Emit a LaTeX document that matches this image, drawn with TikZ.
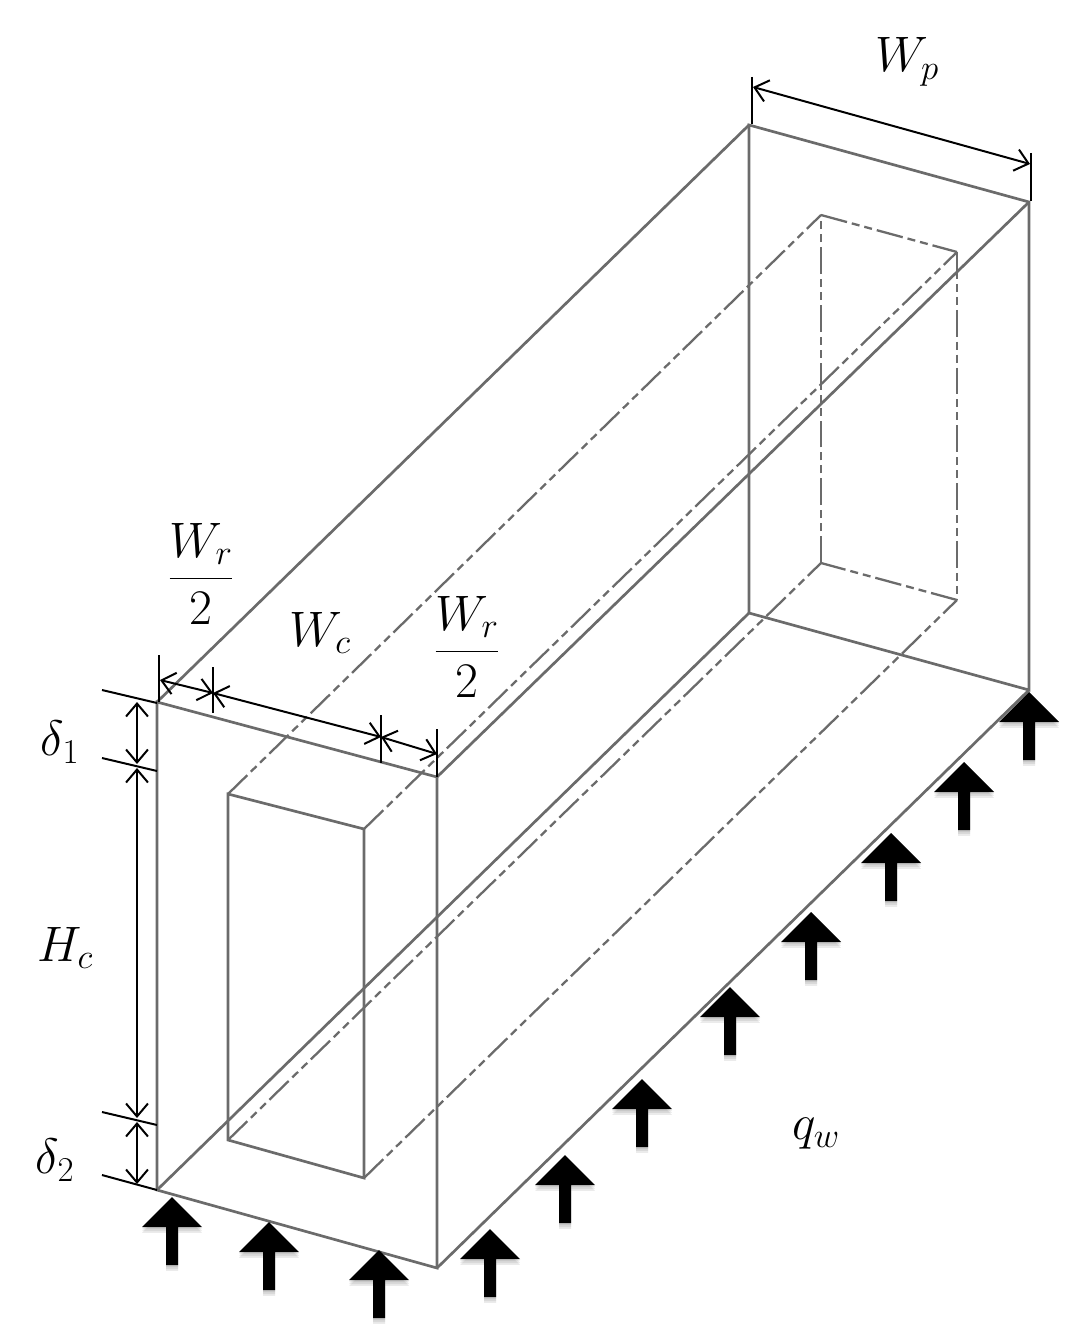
\documentclass[tikz,border=0pt]{standalone}
\usepackage{fix-cm}
\usetikzlibrary{arrows.meta}
\tikzset{
    edgeline/.style={draw=black!58, line width=2.7pt},
    hiddenline/.style={edgeline, line width=2.3pt, dash pattern=on 27pt off 5pt on 8pt off 5pt on 8pt off 5pt},
    dimline/.style={draw=black, line width=2pt},
    dimarrow/.style={dimline, {Straight Barb[length=13pt,width=22pt]}-{Straight Barb[length=13pt,width=22pt]}},
    lab/.style={font=\fontsize{50}{60}\selectfont, inner sep=0pt},
}
\begin{document}
\begin{tikzpicture}[x=1bp, y=-1bp]
\useasboundingbox (0,0) rectangle (1083,1344);
% outer box
\coordinate (A) at (157,702);
\coordinate (B) at (437,777);
\coordinate (C) at (437,1268);
\coordinate (D) at (157,1190);
\coordinate (E) at (749,125);
\coordinate (F) at (1029,202);
\coordinate (G) at (1029,690);
\coordinate (H) at (749,613);
% inner channel
\coordinate (a) at (228,794);
\coordinate (b) at (364,829);
\coordinate (c) at (364,1178);
\coordinate (d) at (228,1140);
\coordinate (e) at (821,215);
\coordinate (f) at (957,252);
\coordinate (g) at (957,600);
\coordinate (h) at (821,563);

\draw[edgeline](A)--(B)--(C)--(D)--cycle;
\draw[edgeline](E)--(F)--(G)--(H)--cycle;
\foreach \p/\q in {A/E,B/F,C/G,D/H}
{
    \draw[edgeline](\p)--(\q);
}
\draw[edgeline](a)--(b)--(c)--(d)--cycle;
\foreach \p/\q in {a/e,b/f,c/g,d/h,e/f,f/g,g/h,h/e}
{
    \draw[hiddenline](\p)--(\q);
}

% heat flux arrows
\foreach \x/\y in {172/1197,269/1222,379/1250,490/1229,565/1155,642/1079,730/987,811/912,891/833,964/762,1029/692}
{
    \begin{scope}[shift={(\x,\y)}]
    \foreach \s in {2,4,6}
    {
        \fill[black, opacity=.08,yshift=-\s pt](0,0)--(30,30)--(6,30)--(6,68)--(-6,68)--(-6,30)--(-30,30)--cycle;
    }
    \fill[black](0,0)--(30,30)--(6,30)--(6,68)--(-6,68)--(-6,30)--(-30,30)--cycle;
    \end{scope}
}

% dimension ticks
\coordinate (t1) at (159,655);
\coordinate (t2) at (159,702);
\coordinate (t3) at (213,667);
\coordinate (t4) at (213,713);
\coordinate (t5) at (381,715);
\coordinate (t6) at (381,763);
\coordinate (t7) at (437,729);
\coordinate (t8) at (437,777);
\coordinate (t9) at (752,77);
\coordinate (t10) at (752,124);
\coordinate (t11) at (1031,153);
\coordinate (t12) at (1031,201);
\coordinate (s1) at (102,690);
\coordinate (s2) at (157,703);
\coordinate (s3) at (102,758);
\coordinate (s4) at (157,771);
\coordinate (s5) at (102,1112);
\coordinate (s6) at (157,1125);
\coordinate (s7) at (102,1175);
\coordinate (s8) at (157,1190);
\foreach \p/\q in {t1/t2,t3/t4,t5/t6,t7/t8,t9/t10,t11/t12,s1/s2,s3/s4,s5/s6,s7/s8}
{
    \draw[dimline](\p)--(\q);
}
% dimension arrows
\coordinate (w1) at (160,680);
\coordinate (w2) at (213,693);
\coordinate (w3) at (381,737);
\coordinate (w4) at (437,754);
\coordinate (w5) at (753,87);
\coordinate (w6) at (1030,164);
\coordinate (v1) at (137,702);
\coordinate (v2) at (137,764);
\coordinate (v3) at (137,768);
\coordinate (v4) at (137,1118);
\coordinate (v5) at (137,1122);
\coordinate (v6) at (137,1184);
\foreach \p/\q in {w1/w2,w2/w3,w3/w4,w5/w6,v1/v2,v3/v4,v5/v6}
{
    \draw[dimarrow](\p)--(\q);
}

% labels
\node[lab] (wr1) at (201,574) {$\displaystyle\frac{W_r}{2}$};
\node[lab] (wr2) at (467,647) {$\displaystyle\frac{W_r}{2}$};
\node[lab] (wc) at (320,633) {$W_c$};
\node[lab] (wp) at (907,62) {$W_p$};
\node[lab] (d1) at (60,742) {$\delta_1$};
\node[lab] (d2) at (55,1160) {$\delta_2$};
\node[lab] (hc) at (65,948) {$H_c$};
\node[lab] (qw) at (816,1134) {$q_w$};
\end{tikzpicture}
\end{document}
